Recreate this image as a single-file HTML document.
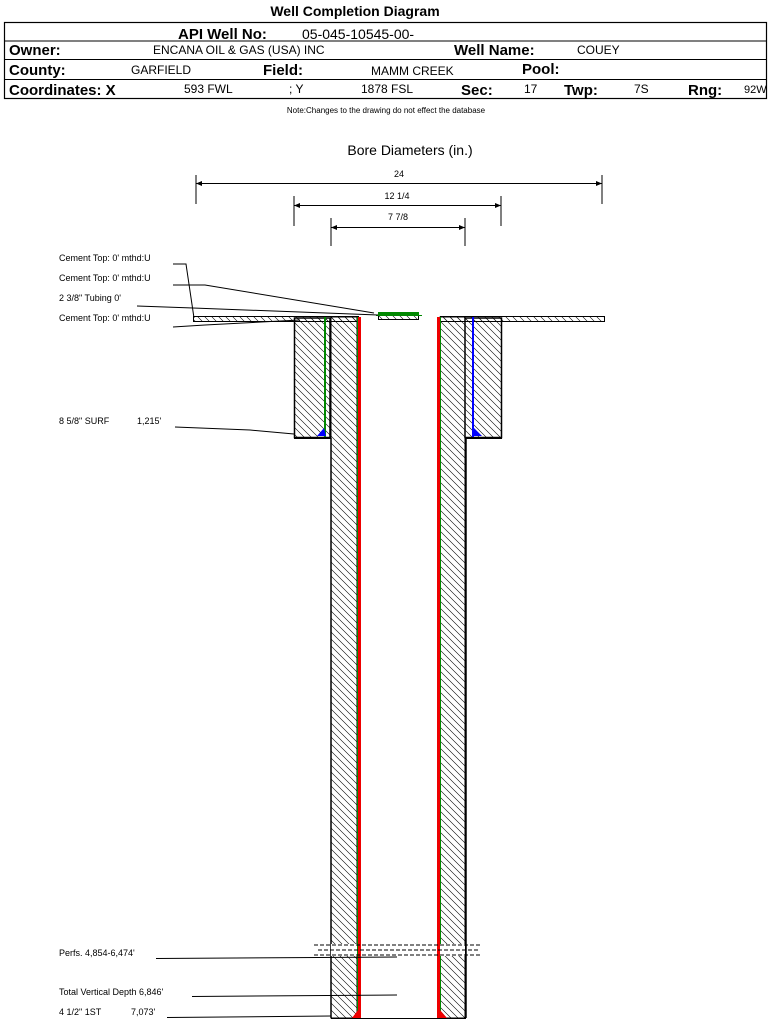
<!DOCTYPE html>
<html><head><style>
body{margin:0;background:#fff;width:769px;height:1020px;overflow:hidden}
svg{display:block}
text{font-family:"Liberation Sans",sans-serif;fill:#000}
</style></head><body>
<svg width="769" height="1020" viewBox="0 0 769 1020">
<defs>
<pattern id="h" width="7" height="7" patternUnits="userSpaceOnUse">
<path d="M-1,-1 L8,8 M-8,-1 L1,8 M6,-1 L15,8" stroke="#000" stroke-width="0.6"/>
</pattern>
</defs>
<!-- header -->
<text x="355" y="16" font-size="14" font-weight="bold" text-anchor="middle">Well Completion Diagram</text>
<rect x="4.5" y="22.5" width="762" height="76" fill="none" stroke="#000" stroke-width="1.2"/>
<line x1="4" y1="41" x2="767" y2="41" stroke="#000"/>
<line x1="4" y1="59.5" x2="767" y2="59.5" stroke="#000"/>
<line x1="4" y1="79.5" x2="767" y2="79.5" stroke="#000"/>
<text x="178" y="39" font-size="15" font-weight="bold">API Well No:</text>
<text x="302" y="39" font-size="14">05-045-10545-00-</text>
<text x="9" y="55" font-size="15" font-weight="bold">Owner:</text>
<text x="153" y="54" font-size="12">ENCANA OIL &amp; GAS (USA) INC</text>
<text x="454" y="55" font-size="15" font-weight="bold">Well Name:</text>
<text x="577" y="54" font-size="12">COUEY</text>
<text x="9" y="75" font-size="15" font-weight="bold">County:</text>
<text x="131" y="74" font-size="12">GARFIELD</text>
<text x="263" y="75" font-size="15" font-weight="bold">Field:</text>
<text x="371" y="75" font-size="12">MAMM CREEK</text>
<text x="522" y="74" font-size="15" font-weight="bold">Pool:</text>
<text x="9" y="95" font-size="15" font-weight="bold">Coordinates: X</text>
<text x="184" y="93" font-size="12">593 FWL</text>
<text x="289" y="93" font-size="12">; Y</text>
<text x="361" y="93" font-size="12">1878 FSL</text>
<text x="461" y="95" font-size="15" font-weight="bold">Sec:</text>
<text x="524" y="93" font-size="12">17</text>
<text x="564" y="95" font-size="15" font-weight="bold">Twp:</text>
<text x="634" y="93" font-size="12">7S</text>
<text x="688" y="95" font-size="15" font-weight="bold">Rng:</text>
<text x="744" y="93" font-size="11">92W</text>
<text x="386" y="113" font-size="8" text-anchor="middle">Note:Changes to the drawing do not effect the database</text>
<text x="410" y="155" font-size="14" text-anchor="middle">Bore Diameters (in.)</text>
<!-- dimensions -->
<g stroke="#000" stroke-width="1">
<line x1="196" y1="175" x2="196" y2="204"/><line x1="602" y1="175" x2="602" y2="204"/>
<line x1="196" y1="183.5" x2="602" y2="183.5"/>
<line x1="294" y1="196" x2="294" y2="226"/><line x1="501" y1="196" x2="501" y2="226"/>
<line x1="294" y1="205.5" x2="501" y2="205.5"/>
<line x1="331" y1="218" x2="331" y2="246"/><line x1="465" y1="218" x2="465" y2="246"/>
<line x1="331" y1="227.5" x2="465" y2="227.5"/>
</g>
<path d="M196,183.5 l6,-2.5 v5z M602,183.5 l-6,-2.5 v5z M294,205.5 l6,-2.5 v5z M501,205.5 l-6,-2.5 v5z M331,227.5 l6,-2.5 v5z M465,227.5 l-6,-2.5 v5z"/>
<text x="399" y="177" font-size="9" text-anchor="middle">24</text>
<text x="397" y="199" font-size="9" text-anchor="middle">12 1/4</text>
<text x="398" y="220" font-size="9" text-anchor="middle">7 7/8</text>
<!-- surface plates -->
<rect x="193.5" y="316.5" width="165" height="5" fill="url(#h)" stroke="#000"/>
<rect x="440.5" y="316.5" width="164" height="5" fill="url(#h)" stroke="#000"/>
<rect x="378.5" y="312.5" width="40" height="7" fill="url(#h)" stroke="#000"/>
<rect x="378" y="312" width="41" height="3" fill="#080"/>
<line x1="376" y1="315.5" x2="422" y2="315.5" stroke="#080"/>
<!-- left cement annulus -->
<path d="M294.5,318 H330 V437.5 H294.5 Z" fill="url(#h)" stroke="#000" stroke-width="1.5"/>
<rect x="331" y="317" width="26" height="701" fill="url(#h)" stroke="#000"/>
<line x1="294" y1="438.5" x2="331" y2="438.5" stroke="#000"/>
<line x1="331" y1="438" x2="331" y2="1018" stroke="#000" stroke-width="1.5"/>
<rect x="324" y="317" width="2" height="120" fill="#080"/>
<path d="M317,436 L324,428 L326,436Z" fill="#00f"/>
<rect x="357" y="317" width="2" height="701" fill="#080"/>
<rect x="358" y="317" width="3" height="701" fill="#e00"/>
<!-- right -->
<rect x="440" y="317" width="25" height="701" fill="url(#h)" stroke="#000"/>
<path d="M465,318 H501.5 V437.5 H465 Z" fill="url(#h)" stroke="#000" stroke-width="1.5"/>
<line x1="465" y1="438.5" x2="502" y2="438.5" stroke="#000"/>
<line x1="466" y1="438" x2="466" y2="1018" stroke="#000" stroke-width="1.5"/>
<rect x="472" y="317" width="2" height="120" fill="#00f"/>
<path d="M474,428 L482,436 L474,436Z" fill="#00f"/>
<rect x="439" y="317" width="2" height="701" fill="#080"/>
<rect x="437" y="317" width="3" height="701" fill="#e00"/>
<path d="M352,1018 L358,1010 L361,1018Z M440,1010 L447,1018 L440,1018Z" fill="#e00"/>
<line x1="331" y1="1018.5" x2="466" y2="1018.5" stroke="#000"/>
<!-- perfs -->
<rect x="331" y="944" width="26" height="12" fill="#fff"/>
<rect x="440" y="944" width="25" height="12" fill="#fff"/>
<g stroke="#000" stroke-width="1" stroke-dasharray="4,2">
<line x1="314" y1="945" x2="481" y2="945"/>
<line x1="318" y1="950" x2="478" y2="950"/>
<line x1="314" y1="955" x2="481" y2="955"/>
</g>
<!-- labels -->
<g font-size="9">
<text x="59" y="261">Cement Top: 0' mthd:U</text>
<text x="59" y="281">Cement Top: 0' mthd:U</text>
<text x="59" y="301">2 3/8" Tubing 0'</text>
<text x="59" y="321">Cement Top: 0' mthd:U</text>
<text x="59" y="424">8 5/8" SURF</text>
<text x="137" y="424">1,215'</text>
<text x="59" y="956">Perfs. 4,854-6,474'</text>
<text x="59" y="995">Total Vertical Depth 6,846'</text>
<text x="59" y="1015">4 1/2" 1ST</text>
<text x="131" y="1015">7,073'</text>
</g>
<g stroke="#000" stroke-width="1" fill="none">
<polyline points="173,264 186,264 194,318"/>
<polyline points="173,285 205,285 374,313"/>
<polyline points="137,306 193,308 378,315"/>
<polyline points="173,327 205,325 300,320"/>
<polyline points="175,427 250,430 294,434"/>
<polyline points="156,958.5 397,957"/>
<polyline points="192,996.5 397,995"/>
<polyline points="167,1017.5 331,1016"/>
</g>
</svg>
</body></html>
